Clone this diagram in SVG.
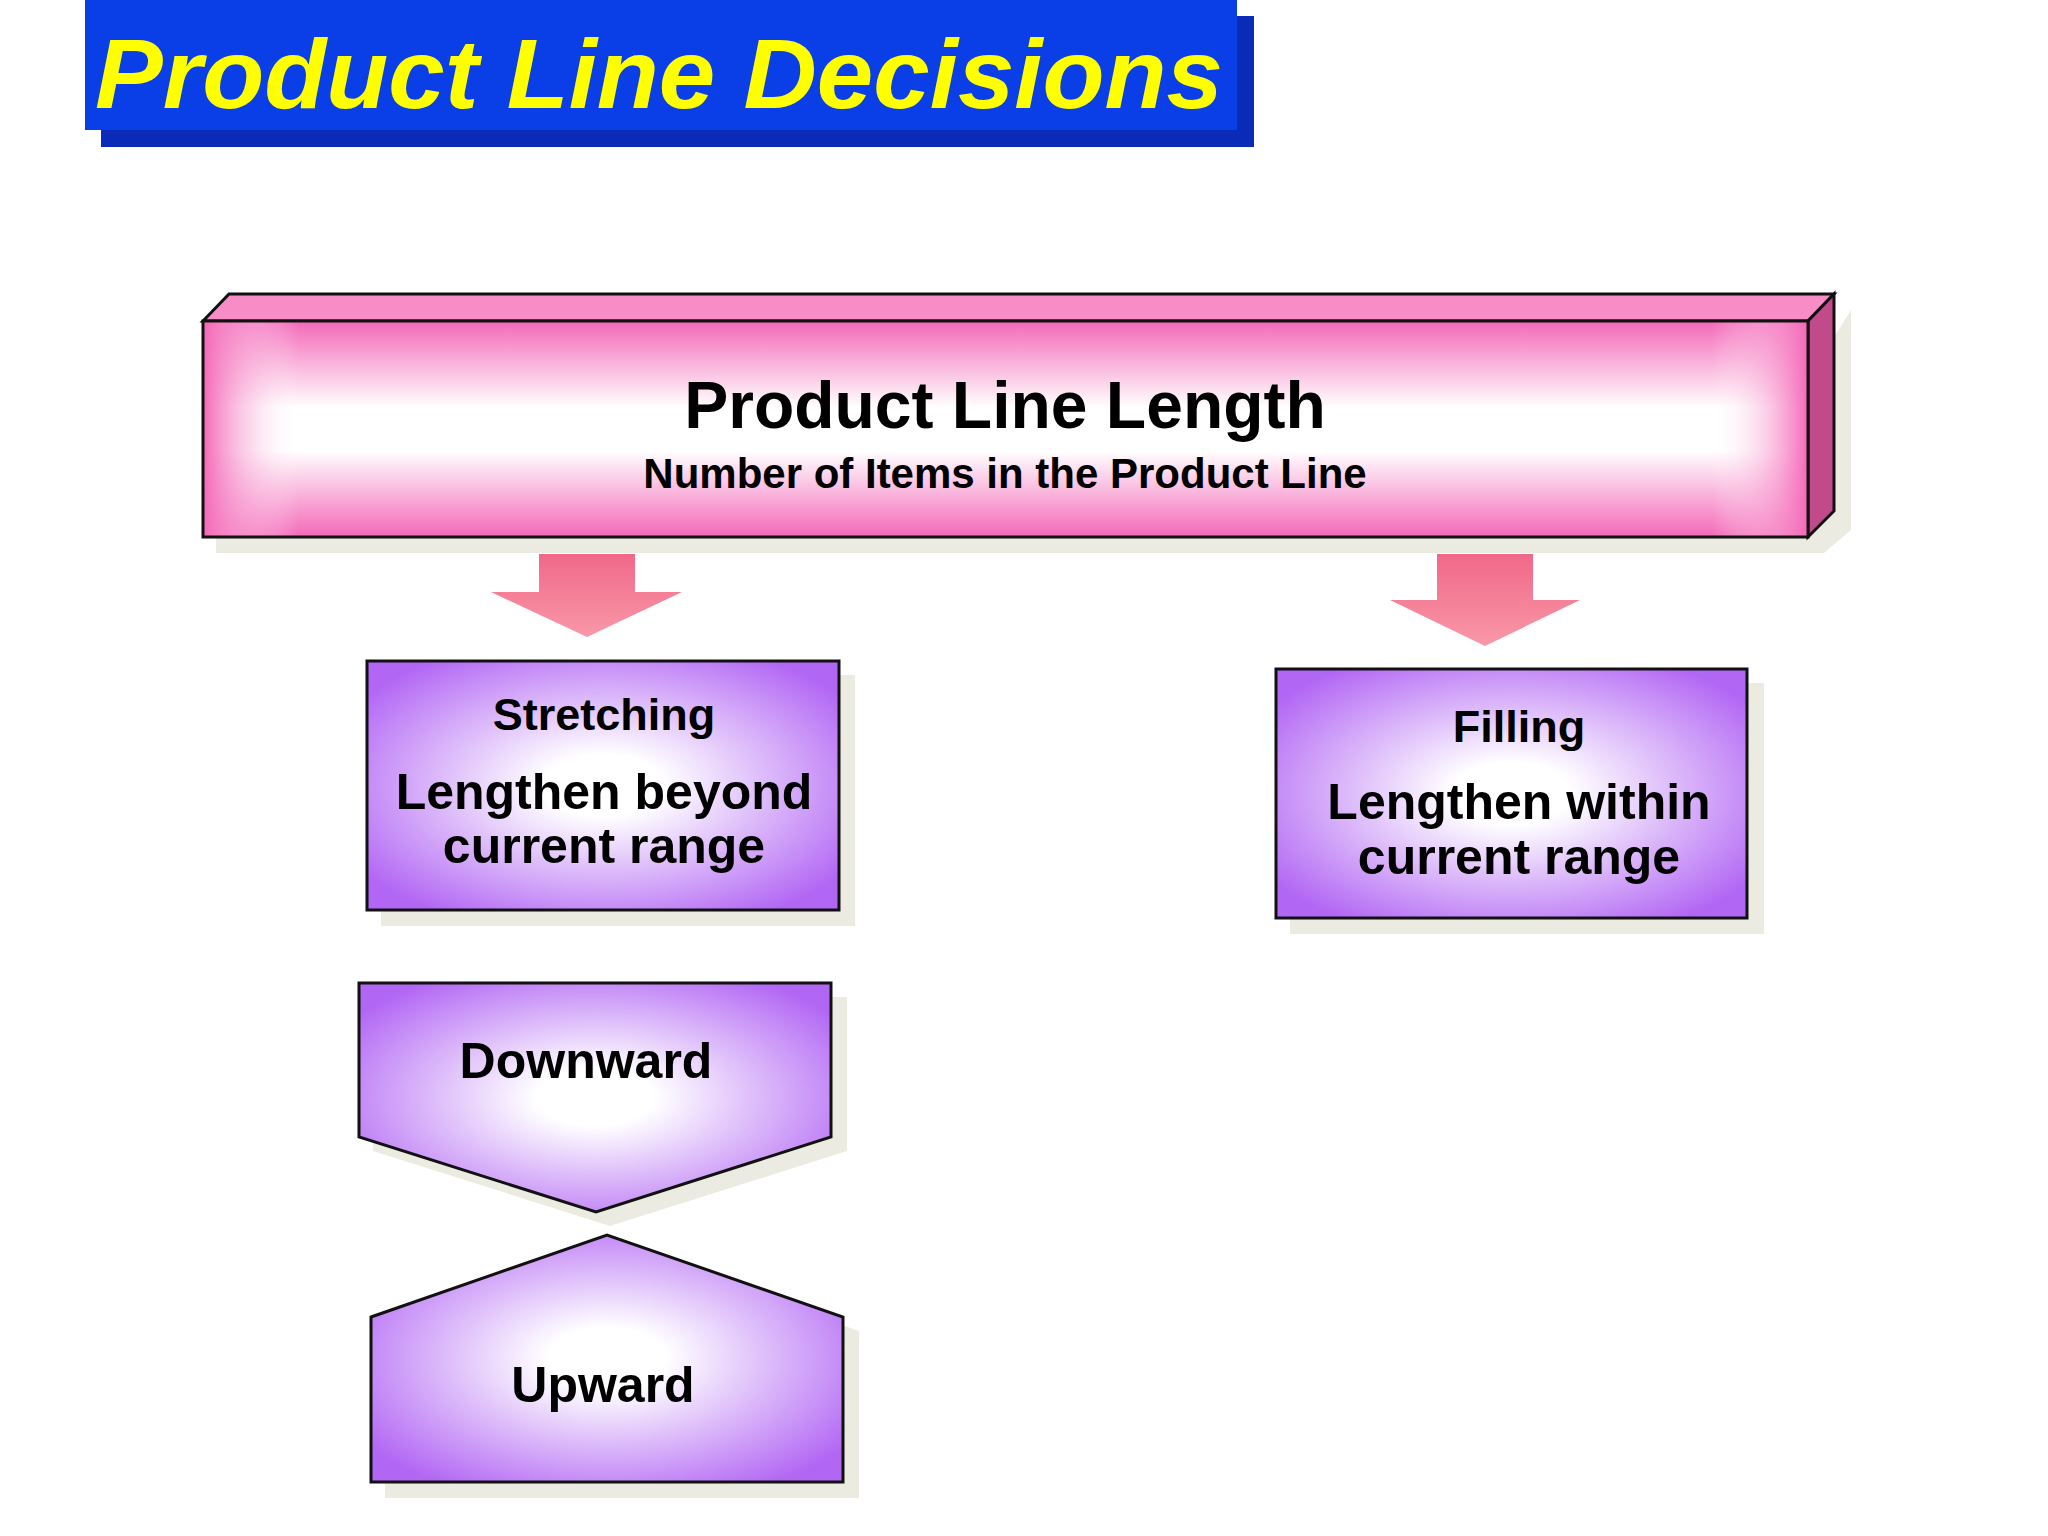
<svg xmlns="http://www.w3.org/2000/svg" width="2048" height="1536" viewBox="0 0 2048 1536">
<defs>
<linearGradient id="pinkV" x1="0" y1="0" x2="0" y2="1">
<stop offset="0" stop-color="#f468b8"/><stop offset="0.4" stop-color="#ffffff"/><stop offset="0.6" stop-color="#ffffff"/><stop offset="1" stop-color="#f468b8"/>
</linearGradient>
<linearGradient id="pinkH" x1="0" y1="0" x2="1" y2="0">
<stop offset="0" stop-color="#f468b8"/><stop offset="0.06" stop-color="#ffffff" stop-opacity="0"/><stop offset="0.94" stop-color="#ffffff" stop-opacity="0"/><stop offset="1" stop-color="#f468b8"/>
</linearGradient>
<radialGradient id="purp" cx="0.5" cy="0.5" r="0.62">
<stop offset="0.2" stop-color="#ffffff"/><stop offset="1" stop-color="#b266f4"/>
</radialGradient>
<linearGradient id="arr" x1="0" y1="0" x2="0" y2="1">
<stop offset="0" stop-color="#f06888"/><stop offset="1" stop-color="#f898a8"/>
</linearGradient>
<style>
.sh{fill:#ecebe2}
.bx{stroke:#111;stroke-width:3}
.t{font-family:"Liberation Sans",Arial,sans-serif;font-weight:bold;fill:#000;text-anchor:middle}
</style>
</defs>
<g id="title">
<rect x="101" y="16" width="1153" height="131" fill="#0a2ab8"/>
<rect x="85" y="0" width="1152" height="130" fill="#0a3ee6"/>
<text x="95" y="108" font-family="Liberation Sans,Arial,sans-serif" font-weight="bold" font-style="italic" font-size="98" fill="#ffff00" textLength="1128" lengthAdjust="spacingAndGlyphs">Product Line Decisions</text>
</g>
<g id="length">
<polygon class="sh" points="216,337 1834,337 1851,310 1851,530 1824,553 216,553"/>
<polygon points="203,321 229,294 1834,294 1808,321" fill="#f78cc6" class="bx"/>
<polygon points="1808,321 1834,294 1834,511 1808,537" fill="#c04a8a" class="bx"/>
<rect x="203" y="321" width="1605" height="216" fill="url(#pinkV)"/>
<rect x="203" y="321" width="1605" height="216" fill="url(#pinkH)" class="bx"/>
<text class="t" x="1005" y="428" font-size="66">Product Line Length</text>
<text class="t" x="1005" y="488" font-size="42">Number of Items in the Product Line</text>
</g>
<g id="connectors">
<polygon points="539,554 635,554 635,592 682,592 587,637 491,592 539,592" fill="url(#arr)"/>
<polygon points="1437,554 1533,554 1533,600 1580,600 1485,646 1390,600 1437,600" fill="url(#arr)"/>
</g>
<g id="stretching">
<rect class="sh" x="381" y="675" width="474" height="251"/>
<rect class="bx" x="367" y="661" width="472" height="249" fill="url(#purp)"/>
<text class="t" x="604" y="730" font-size="45">Stretching</text>
<text class="t" x="604" y="809" font-size="50">Lengthen beyond</text>
<text class="t" x="604" y="863" font-size="50">current range</text>
</g>
<g id="filling">
<rect class="sh" x="1290" y="683" width="474" height="251"/>
<rect class="bx" x="1276" y="669" width="471" height="249" fill="url(#purp)"/>
<text class="t" x="1519" y="742" font-size="45">Filling</text>
<text class="t" x="1519" y="819" font-size="50">Lengthen within</text>
<text class="t" x="1519" y="874" font-size="50">current range</text>
</g>
<g id="downward">
<polygon class="sh" points="373,997 847,997 847,1151 610,1226 373,1151"/>
<polygon class="bx" points="359,983 831,983 831,1137 596,1212 359,1137" fill="url(#purp)"/>
<text class="t" x="586" y="1078" font-size="50">Downward</text>
</g>
<g id="upward">
<polygon class="sh" points="385,1331 621,1249 859,1331 859,1498 385,1498"/>
<polygon class="bx" points="371,1317 607,1235 843,1317 843,1482 371,1482" fill="url(#purp)"/>
<text class="t" x="603" y="1402" font-size="50">Upward</text>
</g>
</svg>
